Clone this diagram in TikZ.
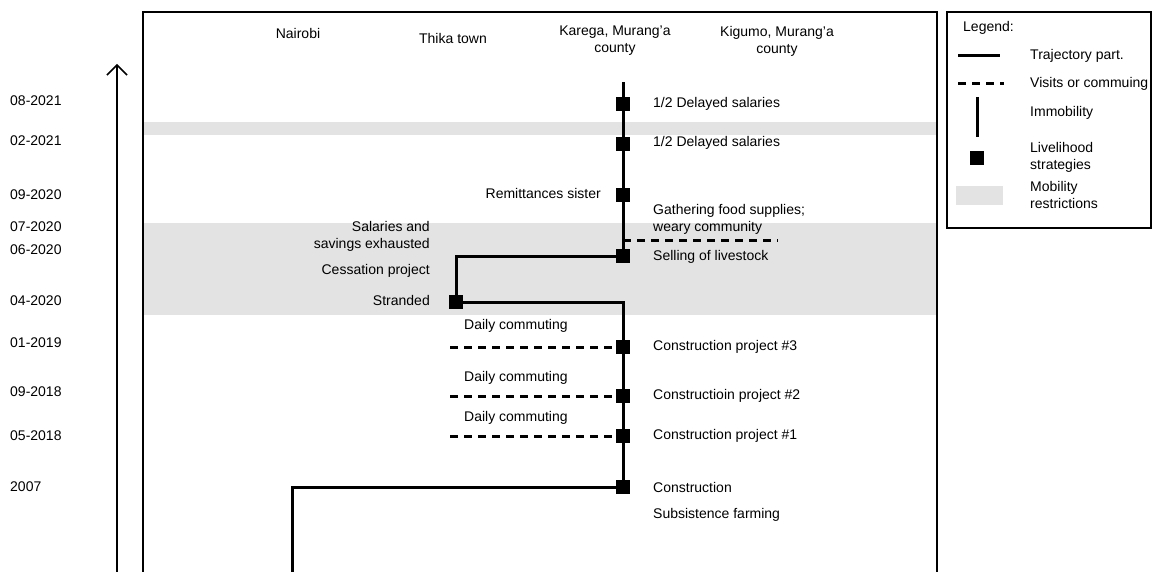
\documentclass[tikz,border=0pt]{standalone}
\usepackage{fontspec}
\setmainfont{Liberation Sans}
\usetikzlibrary{arrows.meta}
\begin{document}
\begin{tikzpicture}[x=1pt,y=-1pt,
  lbl/.style={font=\fontsize{14}{17}\selectfont, inner sep=0pt, align=left},
  lblr/.style={lbl, anchor=east, align=right},
  lbll/.style={lbl, anchor=west},
  datelbl/.style={lbl, anchor=west},
  hdr/.style={lbl, align=center},
  traj/.style={line width=3pt, line join=miter},
  visit/.style={line width=3pt, dash pattern=on 8pt off 6pt},
  strat/.style={fill=black, minimum size=14.5pt, inner sep=0pt, draw=none},
  band/.style={fill=black!11, draw=none}]
\useasboundingbox (0,0) rectangle (1153,572);
% mobility restriction bands
\fill[band] (143,122) rectangle (937,135);
\fill[band] (143,223) rectangle (937,315);
% frame of the timeline, open at the bottom
\draw[line width=1.8pt] (143,572) -- (143,12) -- (937,12) -- (937,572);
% time axis
\draw[line width=1.5pt, -{Straight Barb[length=10pt,width=20pt]}] (117,572) -- (117,64);
% dates
\foreach \d/\y in {08-2021/101,02-2021/141,09-2020/195,07-2020/227,06-2020/250,04-2020/301,01-2019/343,09-2018/392,05-2018/436,2007/487}
  \node[datelbl] at (10,\y) {\d};
% places
\node[hdr] (nairobi) at (298,33) {Nairobi};
\node[hdr] (thika) at (453,38) {Thika town};
\node[hdr] (karega) at (615,41) {Karega, Murang’a\\county};
\node[hdr] (kigumo) at (777,41) {Kigumo, Murang’a\\county};
% livelihood strategies
\node[strat] (s1) at (623,104) {};
\node[strat] (s2) at (623,144) {};
\node[strat] (s3) at (623,195) {};
\node[strat] (s4) at (623,256) {};
\node[strat] (s5) at (456,302) {};
\node[strat] (s6) at (623,347) {};
\node[strat] (s7) at (623,396) {};
\node[strat] (s8) at (623,436) {};
\node[strat] (s9) at (623,487) {};
\coordinate (top) at (623,82);
\coordinate (start) at (292,572);
% trajectory
\draw[traj] (start) |- (s9.center) -- (s8.center) -- (s7.center) -- (s6.center) |- (s5.center) |- (s4.center) -- (s3.center) -- (s2.center) -- (s1.center) -- (top);
% visits and commuting
\coordinate (v0) at (778,240);
\coordinate (v0s) at (623,240);
\coordinate (v1) at (450,347);
\coordinate (v2) at (450,396);
\coordinate (v3) at (450,436);
\draw[visit] (v0s) -- (v0);
\draw[visit] (v1) -- (s6.west);
\draw[visit] (v2) -- (s7.west);
\draw[visit] (v3) -- (s8.west);
% labels
\node[lbll] (l1) at (653,104) {1/2 Delayed salaries};
\node[lbll] (l2) at (653,143) {1/2 Delayed salaries};
\node[lblr] (l3) at (601,193) {Remittances sister};
\node[lbll] (l4) at (653,219) {Gathering food supplies;\\weary community};
\node[lbll] (l5) at (653,257) {Selling of livestock};
\node[lblr] (l6) at (430,236) {Salaries and\\savings exhausted};
\node[lblr] (l7) at (430,271) {Cessation project};
\node[lblr] (l8) at (430,300) {Stranded};
\node[lbll] (c1) at (464,326) {Daily commuting};
\node[lbll] (c2) at (464,378) {Daily commuting};
\node[lbll] (c3) at (464,418) {Daily commuting};
\node[lbll] (l9) at (653,347) {Construction project \#3};
\node[lbll] (l10) at (653,396) {Constructioin project \#2};
\node[lbll] (l11) at (653,436) {Construction project \#1};
\node[lbll] (l12) at (653,487) {Construction};
\node[lbll] (l13) at (653,515) {Subsistence farming};
% legend
\draw[line width=1.4pt] (947,12) rectangle (1151,228);
\node[lbll] (lg) at (963,28) {Legend:};
\coordinate (a1) at (958,56); \coordinate (a2) at (1000,56);
\draw[traj] (a1) -- (a2);
\node[lbll] (lg1) at (1030,56) {Trajectory part.};
\coordinate (b1) at (958,84); \coordinate (b2) at (1004,84);
\draw[visit] (b1) -- (b2);
\node[lbll] (lg2) at (1030,84) {Visits or commuing};
\coordinate (c1a) at (977,97); \coordinate (c1b) at (977,137);
\draw[traj] (c1a) -- (c1b);
\node[lbll] (lg3) at (1030,113) {Immobility};
\node[strat] (lgs) at (977,158) {};
\node[lbll] (lg4) at (1030,157) {Livelihood\\strategies};
\fill[band] (956,186) rectangle (1003,205);
\node[lbll] (lg5) at (1030,195) {Mobility\\restrictions};
\end{tikzpicture}
\end{document}
